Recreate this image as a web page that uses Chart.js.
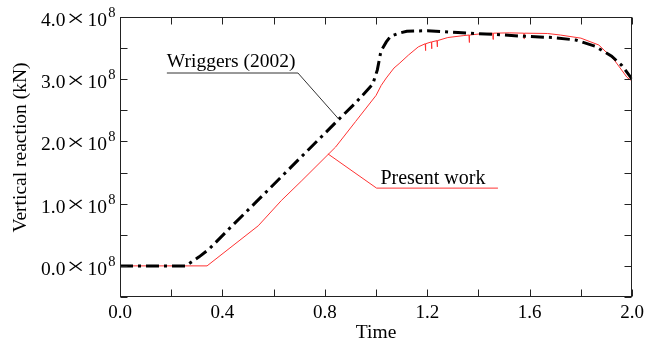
<!DOCTYPE html>
<html><head><meta charset="utf-8">
<script src="https://cdn.jsdelivr.net/npm/chart.js@4/dist/chart.umd.min.js"></script>
<style>html,body{margin:0;padding:0;background:#fff;overflow:hidden}#wrap{width:649px;height:343px;position:relative}</style>
</head><body><div id="wrap"><canvas id="c" width="649" height="343"></canvas></div>
<script>
// Data (vertical reaction in units of 10^8 kN)
const wriggersTime  = [0,0.257,0.309,0.348,0.438,0.53,0.608,0.70,0.80,0.858,0.92,0.987,1.005,1.019,1.04,1.057,1.09,1.12,1.2,1.32,1.46,1.58,1.69,1.78,1.855,1.92,1.96,2.0];
const wriggersValue = [0,0,0.145,0.27,0.645,1.02,1.34,1.72,2.13,2.37,2.62,2.92,3.15,3.45,3.60,3.69,3.74,3.77,3.78,3.75,3.72,3.69,3.67,3.63,3.53,3.37,3.22,3.0];
const presentTime  = [0,0.34,0.54,0.63,0.71,0.842,0.92,1.0,1.02,1.04,1.07,1.09,1.127,1.165,1.192,1.193,1.194,1.216,1.217,1.218,1.238,1.239,1.240,1.28,1.34,1.363,1.364,1.365,1.41,1.456,1.457,1.458,1.52,1.577,1.578,1.579,1.67,1.72,1.80,1.87,1.93,1.98,2.0];
const presentValue = [0,0,0.645,1.05,1.37,1.91,2.32,2.74,2.90,3.02,3.18,3.25,3.39,3.52,3.57,3.46,3.57,3.60,3.49,3.60,3.62,3.52,3.62,3.67,3.70,3.71,3.59,3.71,3.73,3.74,3.64,3.74,3.745,3.74,3.65,3.74,3.735,3.71,3.66,3.55,3.31,3.03,2.97];
const xTickLabels = ['0.0','0.4','0.8','1.2','1.6','2.0'];
const yTickLabels = ['0.0','1.0','2.0','3.0','4.0'];
const yTickExponent = '8';
const seriesNames = ['Wriggers (2002)','Present work'];
const xTitle = 'Time';
const yTitle = 'Vertical reaction (kN)';

const SERIF = '"Liberation Serif","Times New Roman",serif';
const RED = 'rgb(255,50,50)';

function pts(ts, vs){ return ts.map((t,i)=>({x:t,y:vs[i]})); }

const decor = {
  id:'decor',
  afterDraw(chart){
    const ctx = chart.ctx, a = chart.chartArea;
    const xs = chart.scales.x, ys = chart.scales.y;
    ctx.save();
    // frame
    ctx.strokeStyle = '#222'; ctx.lineWidth = 1;
    const L = Math.round(a.left)+0.5, R = Math.round(a.right)-0.5, T = Math.round(a.top)+0.5, B = Math.round(a.bottom)-0.5;
    ctx.strokeRect(L, T, R-L, B-T);
    // inward ticks
    const tl = 7;
    ctx.beginPath();
    xs.ticks.forEach(t=>{ const px = Math.round(xs.getPixelForValue(t.value))+0.5;
      ctx.moveTo(px,B); ctx.lineTo(px,B-tl); ctx.moveTo(px,T); ctx.lineTo(px,T+tl); });
    ys.ticks.forEach(t=>{ const py = Math.round(ys.getPixelForValue(t.value))+0.5;
      ctx.moveTo(L,py); ctx.lineTo(L+tl,py); ctx.moveTo(R,py); ctx.lineTo(R-tl,py); });
    ctx.stroke();
    // y tick labels: "d.d × 10^8"
    ctx.fillStyle = '#000';
    const A = a.left + 0.7;
    yTickLabels.forEach(lbl=>{
      const py = ys.getPixelForValue(parseFloat(lbl));
      const base = py + 9;
      ctx.textBaseline = 'alphabetic'; ctx.textAlign = 'right';
      ctx.font = '14.5px ' + SERIF; ctx.fillText(yTickExponent, A - 5.2, base - 9);
      ctx.font = '19.5px ' + SERIF; ctx.fillText('10', A - 13.6, base);
      ctx.fillText(lbl, A - 55.3, base);
      ctx.save();
      ctx.translate(A - 45, base - 0.5); ctx.scale(1.35, 1);
      ctx.textAlign = 'center'; ctx.font = '24px ' + SERIF;
      ctx.fillText('\u00d7', 0, 0);
      ctx.restore();
    });
    // y title
    ctx.save();
    ctx.translate(21, 147.5); ctx.rotate(-Math.PI/2);
    ctx.font = '19.5px ' + SERIF; ctx.textAlign = 'center'; ctx.textBaseline = 'middle';
    ctx.fillText(yTitle, 0, 0);
    ctx.restore();
    // annotations (anchored in data coordinates)
    const P = (t,v)=>[xs.getPixelForValue(t), ys.getPixelForValue(v)];
    ctx.font = '19.5px ' + SERIF; ctx.textAlign = 'left'; ctx.textBaseline = 'alphabetic';
    let p = P(0.183, 3.19); ctx.fillStyle = '#000'; ctx.fillText(seriesNames[0], p[0], p[1]);
    ctx.strokeStyle = '#333'; ctx.lineWidth = 1; ctx.beginPath();
    p = P(0.183,3.10); ctx.moveTo(p[0],p[1]);
    p = P(0.695,3.10); ctx.lineTo(p[0],p[1]);
    p = P(0.854,2.36); ctx.lineTo(p[0],p[1]);
    ctx.stroke();
    ctx.font = '20px ' + SERIF;
    p = P(1.017, 1.31); ctx.fillText(seriesNames[1], p[0], p[1]);
    ctx.strokeStyle = RED; ctx.beginPath();
    p = P(0.812,1.80); ctx.moveTo(p[0],p[1]);
    p = P(1.002,1.25); ctx.lineTo(p[0],p[1]);
    p = P(1.476,1.25); ctx.lineTo(p[0],p[1]);
    ctx.stroke();
    ctx.restore();
  }
};

new Chart(document.getElementById('c'), {
  type:'line',
  data:{ datasets:[
    { label:seriesNames[0], data:pts(wriggersTime,wriggersValue), borderColor:'#000', borderWidth:3,
      borderDash:[13,5,3,5], pointRadius:0, tension:0, fill:false },
    { label:seriesNames[1], data:pts(presentTime,presentValue), borderColor:RED, borderWidth:1,
      pointRadius:0, tension:0, fill:false }
  ]},
  options:{
    responsive:false, animation:false, devicePixelRatio:1,
    layout:{ padding:{ left:0, right:14, top:17, bottom:0 } },
    plugins:{ legend:{display:false}, tooltip:{enabled:false} },
    scales:{
      x:{ type:'linear', min:0, max:2,
        grid:{display:false, drawTicks:false}, border:{display:false},
        ticks:{ stepSize:0.2, autoSkip:false, maxRotation:0, padding:5, color:'#000',
          font:{family:SERIF, size:19},
          callback:(v)=>{ const k=Math.round(v*10); return k%4===0 ? xTickLabels[k/4] : ''; } },
        title:{ display:true, text:xTitle, color:'#000', font:{family:SERIF, size:19.5, lineHeight:1}, padding:{top:0,bottom:0} },
        afterFit:(s)=>{ s.height = 46; }
      },
      y:{ type:'linear', min:-0.5, max:4,
        grid:{display:false, drawTicks:false}, border:{display:false},
        ticks:{ display:false, stepSize:0.5 },
        afterFit:(s)=>{ s.width = 120; }
      }
    }
  },
  plugins:[decor]
});
</script></body></html>
